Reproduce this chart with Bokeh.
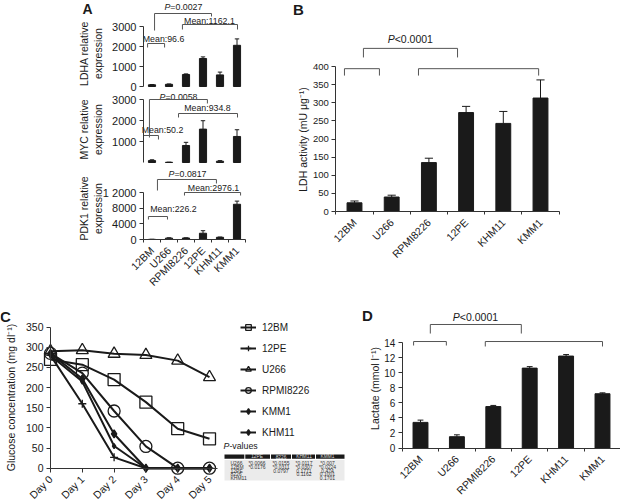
from math import pi
from bokeh.plotting import figure
from bokeh.models import Range1d, FixedTicker, Label, Legend, LegendItem
from bokeh.layouts import row, column
from bokeh.core.properties import value
from bokeh.embed import file_html
from bokeh.resources import INLINE

FONT = "Liberation Sans"
INK = "#1a1a1a"
BRK = "#555555"

# ---------------- data ----------------
cell_lines = ["12BM", "U266", "RPMI8226", "12PE", "KHM11", "KMM1"]

ldha_expr = [85, 108, 600, 1400, 580, 2060]
ldha_err = [15, 20, 30, 80, 140, 320]
myc_expr = [90, 10, 810, 1590, 60, 1240]
myc_err = [40, 5, 150, 400, 30, 320]
pdk1_expr = [40, 350, 380, 1600, 560, 9000]
pdk1_err = [10, 90, 50, 650, 70, 800]

ldh_activity = [24, 40, 135, 273, 243, 313]
ldh_activity_err = [5, 5, 12, 17, 33, 50]

lactate = [3.4, 1.5, 5.5, 10.6, 12.2, 7.2]
lactate_err = [0.3, 0.25, 0.15, 0.2, 0.2, 0.12]

days = ["Day 0", "Day 1", "Day 2", "Day 3", "Day 4", "Day 5"]
glucose_12BM = [270, 257, 220, 164, 98, 73]
glucose_12PE = [280, 160, 27, 0, 0, 0]
glucose_U266 = [290, 293, 284, 281, 267, 226]
glucose_RPMI8226 = [285, 236, 142, 54, 0, 0]
glucose_KMM1 = [285, 222, 85, 0, 0, 0]
glucose_KHM11 = [280, 215, 55, 0, 0, 0]

pv_cols = ["12PE", "8226", "KHM11", "KMM1"]
pv_rows = ["U266", "12BM", "12PE", "8226", "KHM11"]
pv_vals = [
    ["*0.0066", "*0.0155", "*0.0117", "*0.007"],
    ["*0.0176", "*0.0311", "*0.0307", "*0.0224"],
    ["", "0.0797", "0.1771", "0.474"],
    ["", "", "0.1162", "0.1001"],
    ["", "", "", "0.1701"],
]

# ---------------- helpers ----------------
EM = {".": .278, ":": .278, "=": .584, "<": .584, "P": .667, "M": .833, " ": .278}


def em(s):
    return sum(EM.get(c, .556) for c in s)


def lin(p0, p1, a_px, a_v, b_px, b_v):
    s = (b_v - a_v) / (b_px - a_px)
    return (a_v + (p0 - a_px) * s, a_v + (p1 - a_px) * s)


class Geo:
    """Figure placed at page (fx, fy) with size (w, h); the frame fills the figure."""

    def __init__(self, fx, fy, w, h, xa, ya):
        self.fx, self.fy, self.w, self.h = fx, fy, w, h
        self.xr = lin(fx, fx + w, *xa)
        self.yr = lin(fy + h, fy, *ya)

    def d(self, px, py):
        x = self.xr[0] + (px - self.fx) / self.w * (self.xr[1] - self.xr[0])
        y = self.yr[1] - (py - self.fy) / self.h * (self.yr[1] - self.yr[0])
        return x, y


def make_fig(g):
    p = figure(x_range=Range1d(*g.xr), y_range=Range1d(*g.yr),
               frame_width=g.w, frame_height=g.h,
               min_border_left=0, min_border_right=0, min_border_top=0, min_border_bottom=0,
               output_backend="svg", toolbar_location=None, tools="")
    p.outline_line_color = None
    p.xgrid.visible = False
    p.ygrid.visible = False
    p.background_fill_color = "white"
    p.border_fill_color = "white"
    p.xaxis.fixed_location = 0
    p.yaxis.fixed_location = 0
    return p


def style_axis(ax, size):
    ax.axis_line_color = "#333333"
    ax.major_tick_line_color = "#333333"
    ax.minor_tick_line_color = "#333333"
    ax.major_tick_in = 0
    ax.major_tick_out = 4
    ax.minor_tick_in = 0
    ax.minor_tick_out = 0
    ax.major_label_text_font = FONT
    ax.major_label_text_font_size = f"{size}px"
    ax.major_label_text_color = INK
    ax.major_label_standoff = 3


def cat_xaxis(p, size):
    ax = p.xaxis[0]
    style_axis(ax, size)
    centers = [i + 0.5 for i in range(len(cell_lines))]
    ax.ticker = FixedTicker(ticks=centers, minor_ticks=list(range(len(cell_lines) + 1)))
    ax.major_label_overrides = {c: n for c, n in zip(centers, cell_lines)}
    ax.major_label_orientation = pi / 4
    ax.major_tick_out = 0
    ax.minor_tick_out = 3
    ax.major_label_standoff = 6
    ax.bounds = (0, len(cell_lines))


def bars(p, vals, errs, width, cap):
    xs = [i + 0.5 for i in range(len(vals))]
    p.vbar(x=xs, top=vals, bottom=0, width=width, fill_color=INK, line_color=INK)
    tops = [v + e for v, e in zip(vals, errs)]
    p.segment(x0=xs, y0=vals, x1=xs, y1=tops, line_color=INK, line_width=1)
    p.segment(x0=[x - cap / 2 for x in xs], y0=tops, x1=[x + cap / 2 for x in xs], y1=tops,
              line_color=INK, line_width=1)


def bracket(p, x0, x1, y, yl, yr):
    p.line(x=[x0, x0, x1, x1], y=[yl, y, y, yr], line_color=BRK, line_width=1)


def txt(p, x, y, s, size):
    p.text(x=[x], y=[y], text=[s], text_font=value(FONT), text_font_size=value(f"{size}px"),
           text_align="center", text_baseline="middle", text_color=INK)


def ptext(p, x, y, rest, size):
    total = (EM["P"] + em(rest)) * size
    off = -total / 2 + EM["P"] * size
    p.text(x=[x], y=[y], text=["P"], x_offset=off, text_font=value(FONT), text_font_style="italic",
           text_font_size=value(f"{size}px"), text_align="right", text_baseline="middle", text_color=INK)
    p.text(x=[x], y=[y], text=[rest], x_offset=off, text_font=value(FONT),
           text_font_size=value(f"{size}px"), text_align="left", text_baseline="middle", text_color=INK)


def label(p, g, px, py, s, size, angle=0.0, bold=False):
    x, y = g.d(px, py)
    p.add_layout(Label(x=x, y=y, text=s, angle=angle, text_align="center", text_baseline="middle",
                       text_font=FONT, text_font_size=f"{size}px", text_color=INK,
                       text_font_style="bold" if bold else "normal"))


# ---------------- panel A ----------------
AX = (143, 0, 245, 6)
gA1 = Geo(0, 0, 262, 92, AX, (86, 0, 26, 3000))
gA2 = Geo(0, 92, 262, 72, AX, (162, 0, 99, 3000))
gA3 = Geo(0, 164, 262, 136, AX, (239, 0, 192, 12000))

pA1 = make_fig(gA1)
pA2 = make_fig(gA2)
pA3 = make_fig(gA3)
for p, g, vals, errs, ticks, top, name, cy in [
        (pA1, gA1, ldha_expr, ldha_err, [0, 1000, 2000, 3000], 3000, "LDHA", 53),
        (pA2, gA2, myc_expr, myc_err, [1000, 2000, 3000], 3000, "MYC", 129),
        (pA3, gA3, pdk1_expr, pdk1_err, [0, 4000, 8000, 12000], 12000, "PDK1", 208)]:
    bars(p, vals, errs, 0.42, 0.26)
    ya = p.yaxis[0]
    style_axis(ya, 11)
    ya.ticker = FixedTicker(ticks=ticks)
    ya.bounds = (0, top)
    label(p, g, 83, cy, f"{name} relative", 10.5, angle=pi / 2)
    label(p, g, 97, cy, "expression", 10.5, angle=pi / 2)
pA3.yaxis[0].major_label_overrides = {12000: "1 2000"}
pA1.xaxis.visible = False
pA2.xaxis.visible = False
cat_xaxis(pA3, 10.5)
label(pA1, gA1, 87, 8, "A", 14, bold=True)

ptext(pA1, 2.35, 3975, "=0.0027", 8.8)
bracket(pA1, 0.65, 4.0, 3650, 2800, 3500)
txt(pA1, 3.88, 3275, "Mean:1162.1", 8.8)
bracket(pA1, 2.29, 5.53, 3100, 2850, 2850)
txt(pA1, 1.18, 2375, "Mean:96.6", 8.8)
bracket(pA1, 0.24, 1.24, 2150, 1950, 1950)

ptext(pA2, 2.06, 3130, "=0.0058", 8.8)
bracket(pA2, 0.35, 3.76, 3000, 1190, 2810)
txt(pA2, 3.76, 2595, "Mean:934.8", 8.8)
bracket(pA2, 2.06, 5.53, 2333, 2143, 2143)
txt(pA2, 1.12, 1524, "Mean:50.2", 8.8)
bracket(pA2, 0.0, 0.88, 1286, 1095, 1095)

ptext(pA3, 2.59, 16850, "=0.0817", 8.8)
bracket(pA3, 0.82, 4.29, 15320, 12510, 14300)
txt(pA3, 4.12, 13275, "Mean:2976.1", 8.8)
bracket(pA3, 2.41, 5.71, 12000, 11230, 11230)
txt(pA3, 1.76, 7660, "Mean:226.2", 8.8)
bracket(pA3, 0.29, 1.41, 5870, 5100, 5100)

# ---------------- panel B ----------------
gB = Geo(262, 0, 358, 300, (335.4, 0, 558.6, 6), (211, 0, 66, 400))
pB = make_fig(gB)
bars(pB, ldh_activity, ldh_activity_err, 0.40, 0.22)
yb = pB.yaxis[0]
style_axis(yb, 9.5)
yb.ticker = FixedTicker(ticks=list(range(0, 401, 50)))
yb.bounds = (0, 400)
cat_xaxis(pB, 10.5)
label(pB, gB, 302, 139, "LDH activity (mU \u03bcg\u207b\u00b9)", 10.5, angle=pi / 2)
label(pB, gB, 298, 9, "B", 15, bold=True)
ptext(pB, 2.0, 477, "<0.0001", 10.5)
bracket(pB, 0.74, 3.27, 450, 425, 425)
bracket(pB, 0.23, 1.17, 394, 375, 375)
bracket(pB, 2.22, 5.45, 394, 375, 375)

# ---------------- panel C ----------------
gC = Geo(0, 300, 352, 202, (50, 0, 209, 5), (467.7, 0, 326.7, 350))
pC = make_fig(gC)
day_idx = list(range(len(days)))
series = [
    ("12BM", glucose_12BM, "square", 12, None),
    ("12PE", glucose_12PE, "cross", 8, None),
    ("U266", glucose_U266, "triangle", 12, None),
    ("RPMI8226", glucose_RPMI8226, "circle", 12, None),
    ("KMM1", glucose_KMM1, "diamond", 8, INK),
    ("KHM11", glucose_KHM11, "diamond", 5, INK),
]
items = []
for name, ys, mk, sz, fc in series:
    lr = pC.line(day_idx, ys, line_color=INK, line_width=2)
    sr = pC.scatter(day_idx, ys, marker=mk, size=sz, line_color=INK, line_width=1.3,
                    fill_color=fc if fc else "white", fill_alpha=1 if fc else 0)
    items.append(LegendItem(label=name, renderers=[lr, sr]))

xc = pC.xaxis[0]
style_axis(xc, 10.5)
xc.ticker = FixedTicker(ticks=day_idx)
xc.major_label_overrides = {i: d for i, d in zip(day_idx, days)}
xc.major_label_orientation = pi / 4
xc.bounds = (0, 5.25)
xc.major_label_standoff = 5
yc = pC.yaxis[0]
style_axis(yc, 10.5)
yc.ticker = FixedTicker(ticks=list(range(0, 351, 50)))
yc.bounds = (0, 350)

legend = Legend(items=items, location=(240, 63), orientation="vertical",
                label_text_font=FONT, label_text_font_size="10px", label_text_color=INK,
                glyph_width=16, glyph_height=14, label_height=14, spacing=7,
                padding=0, margin=0, border_line_color=None, background_fill_alpha=0,
                label_standoff=6)
pC.add_layout(legend)

label(pC, gC, 10, 397, "Glucose concentration (mg dl\u207b\u00b9)", 10.5, angle=pi / 2)
label(pC, gC, 5, 316, "C", 15, bold=True)

# P-value table (helper ranges anchored at the table's top-left corner)
TL, TT = 220.0, 440.0
pC.extra_x_ranges = {"tx": Range1d(gC.fx - TL, gC.fx + gC.w - TL)}
pC.extra_y_ranges = {"ty": Range1d(gC.fy + gC.h - TT, gC.fy - TT)}
col_c = [36.5, 60.5, 83.5, 107.0]
row_y = [22.3 + 3.85 * i for i in range(len(pv_rows))]
pC.quad(left=[4], right=[124], top=[19.5], bottom=[40.0], fill_color="#ebebeb",
        line_color=None, x_range_name="tx", y_range_name="ty")
hl = [4.0, 24.8, 50.5, 71.5, 95.5]
hr = [23.8, 49.5, 70.5, 94.5, 124.0]
pC.quad(left=hl, right=hr, top=[14.0] * len(hl), bottom=[18.3] * len(hl), fill_color=INK,
        line_color=None, x_range_name="tx", y_range_name="ty")
pC.text(x=col_c, y=[16.2] * len(col_c), text=pv_cols, text_font=value(FONT),
        text_font_size=value("4.8px"), text_align="center", text_baseline="middle",
        text_color="#dddddd", x_range_name="tx", y_range_name="ty")
pC.text(x=[10.0] * len(pv_rows), y=row_y, text=pv_rows, text_font=value(FONT),
        text_font_size=value("5px"), text_align="left", text_baseline="middle",
        text_color="#333333", x_range_name="tx", y_range_name="ty")
vx, vy, vt = [], [], []
for i, r in enumerate(pv_vals):
    for j, s in enumerate(r):
        if s:
            vx.append(col_c[j]); vy.append(row_y[i]); vt.append(s)
pC.text(x=vx, y=vy, text=vt, text_font=value(FONT), text_font_size=value("5px"),
        text_align="center", text_baseline="middle", text_color="#333333",
        x_range_name="tx", y_range_name="ty")
pC.text(x=[3.0], y=[5.0], text=["P"], text_font=value(FONT), text_font_style="italic",
        text_font_size=value("8.8px"), text_align="left", text_baseline="middle",
        text_color=INK, x_range_name="tx", y_range_name="ty")
pC.text(x=[8.9], y=[5.0], text=["-values"], text_font=value(FONT),
        text_font_size=value("8.8px"), text_align="left", text_baseline="middle",
        text_color=INK, x_range_name="tx", y_range_name="ty")

# ---------------- panel D ----------------
gD = Geo(352, 300, 268, 202, (401.8, 0, 620.2, 6), (447.5, 0, 342, 14))
pD = make_fig(gD)
bars(pD, lactate, lactate_err, 0.41, 0.16)
yd = pD.yaxis[0]
style_axis(yd, 10)
yd.ticker = FixedTicker(ticks=list(range(0, 15, 2)))
yd.bounds = (0, 14)
cat_xaxis(pD, 10.5)
label(pD, gD, 374, 388, "Lactate (mmol l\u207b\u00b9)", 10.5, angle=pi / 2)
label(pD, gD, 367, 315, "D", 15, bold=True)
ptext(pD, 2.01, 17.45, "<0.0001", 10.5)
bracket(pD, 0.77, 3.27, 16.39, 15.19, 15.19)
bracket(pD, 0.31, 1.21, 14.13, 13.6, 13.6)
bracket(pD, 2.28, 5.5, 14.13, 13.47, 13.47)

layout = column(row(column(pA1, pA2, pA3), pB), row(pC, pD))
open("out.html", "w").write(file_html(layout, INLINE))
